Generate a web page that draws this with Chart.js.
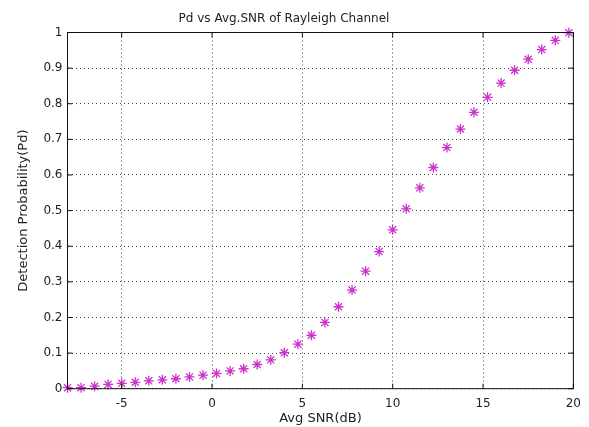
<!DOCTYPE html>
<html>
<head>
<meta charset="utf-8">
<script src="https://cdn.jsdelivr.net/npm/chart.js@4.4.1/dist/chart.umd.min.js"></script>
<style>
  html, body { margin: 0; padding: 0; background: #fff; }
  #wrap { width: 589px; height: 427px; }
</style>
</head>
<body>
<div id="wrap"><canvas id="c" width="589" height="427"></canvas></div>
<script>
// Average SNR (dB), -8 to 19.75 in 0.75 dB steps
const snrDb = [
  -8, -7.25, -6.5, -5.75, -5, -4.25, -3.5, -2.75, -2, -1.25,
  -0.5, 0.25, 1, 1.75, 2.5, 3.25, 4, 4.75, 5.5, 6.25,
  7, 7.75, 8.5, 9.25, 10, 10.75, 11.5, 12.25, 13, 13.75,
  14.5, 15.25, 16, 16.75, 17.5, 18.25, 19, 19.75
];
// Detection probability at each SNR
const pd = [
  0.003, 0.003, 0.007, 0.012, 0.015, 0.018, 0.022, 0.025, 0.028, 0.033,
  0.038, 0.043, 0.050, 0.056, 0.068, 0.081, 0.101, 0.125, 0.150, 0.186,
  0.230, 0.277, 0.330, 0.385, 0.446, 0.505, 0.564, 0.621, 0.677, 0.729,
  0.776, 0.818, 0.858, 0.894, 0.925, 0.952, 0.978, 0.999
];
const xTicks = [-5, 0, 5, 10, 15, 20];
const yTicks = [0, 0.1, 0.2, 0.3, 0.4, 0.5, 0.6, 0.7, 0.8, 0.9, 1];

const chartTitle = 'Pd vs Avg.SNR of Rayleigh Channel';
const xTitle = 'Avg SNR(dB)';
const yTitle = 'Detection Probability(Pd)';

const FONT = '"DejaVu Sans", "Liberation Sans", Arial, sans-serif';
const TEXT = '#222';

// Box frame, inward tick marks and the three text labels
const framePlugin = {
  id: 'frame',
  afterDraw(chart) {
    const { ctx, chartArea: a, scales } = chart;
    ctx.save();
    ctx.strokeStyle = '#111';
    ctx.lineWidth = 1;
    ctx.setLineDash([]);
    ctx.strokeRect(a.left, a.top, a.right - a.left, a.bottom - a.top);
    const tl = 5;
    ctx.beginPath();
    xTicks.forEach(v => {
      const px = scales.x.getPixelForValue(v);
      ctx.moveTo(px, a.bottom); ctx.lineTo(px, a.bottom - tl);
      ctx.moveTo(px, a.top); ctx.lineTo(px, a.top + tl);
    });
    yTicks.forEach(v => {
      const py = scales.y.getPixelForValue(v);
      ctx.moveTo(a.left, py); ctx.lineTo(a.left + tl, py);
      ctx.moveTo(a.right, py); ctx.lineTo(a.right - tl, py);
    });
    ctx.stroke();

    ctx.fillStyle = TEXT;
    ctx.textAlign = 'center';
    ctx.textBaseline = 'middle';
    ctx.font = '12px ' + FONT;
    ctx.fillText(chartTitle, 284, 19);
    ctx.font = '13px ' + FONT;
    ctx.fillText(xTitle, (a.left + a.right) / 2, 419);
    ctx.translate(23.5, (a.top + a.bottom) / 2);
    ctx.rotate(-Math.PI / 2);
    ctx.fillText(yTitle, 0, 0);
    ctx.restore();
  }
};

new Chart(document.getElementById('c'), {
  type: 'scatter',
  data: {
    datasets: [{
      data: snrDb.map((x, i) => ({ x, y: pd[i] })),
      showLine: false,
      pointStyle: 'star',
      pointRadius: 5,
      pointHoverRadius: 5,
      borderColor: '#cc33cc',
      backgroundColor: '#cc33cc',
      pointBorderWidth: 1.3,
      clip: false
    }]
  },
  options: {
    responsive: false,
    animation: false,
    events: [],
    layout: { padding: { top: 32.5, right: 12.5, left: 0, bottom: 0 } },
    plugins: { legend: { display: false }, tooltip: { enabled: false }, title: { display: false } },
    scales: {
      x: {
        type: 'linear',
        min: -8,
        max: 20,
        afterBuildTicks(s) { s.ticks = xTicks.map(v => ({ value: v })); },
        afterFit(s) { s.height = 38.3; },
        grid: { color: '#444', lineWidth: 1, drawTicks: false },
        border: { display: false, dash: [1, 3] },
        ticks: {
          padding: 8,
          color: TEXT,
          font: { family: FONT, size: 12 },
          maxRotation: 0,
          autoSkip: false
        }
      },
      y: {
        type: 'linear',
        min: 0,
        max: 1,
        afterBuildTicks(s) { s.ticks = yTicks.map(v => ({ value: v })); },
        afterFit(s) { s.width = 67.5; },
        grid: { color: '#444', lineWidth: 1, drawTicks: false },
        border: { display: false, dash: [1, 3] },
        ticks: {
          padding: 5,
          color: TEXT,
          font: { family: FONT, size: 12 },
          autoSkip: false,
          callback: v => String(Math.round(v * 10) / 10)
        }
      }
    }
  },
  plugins: [framePlugin]
});
</script>
</body>
</html>
